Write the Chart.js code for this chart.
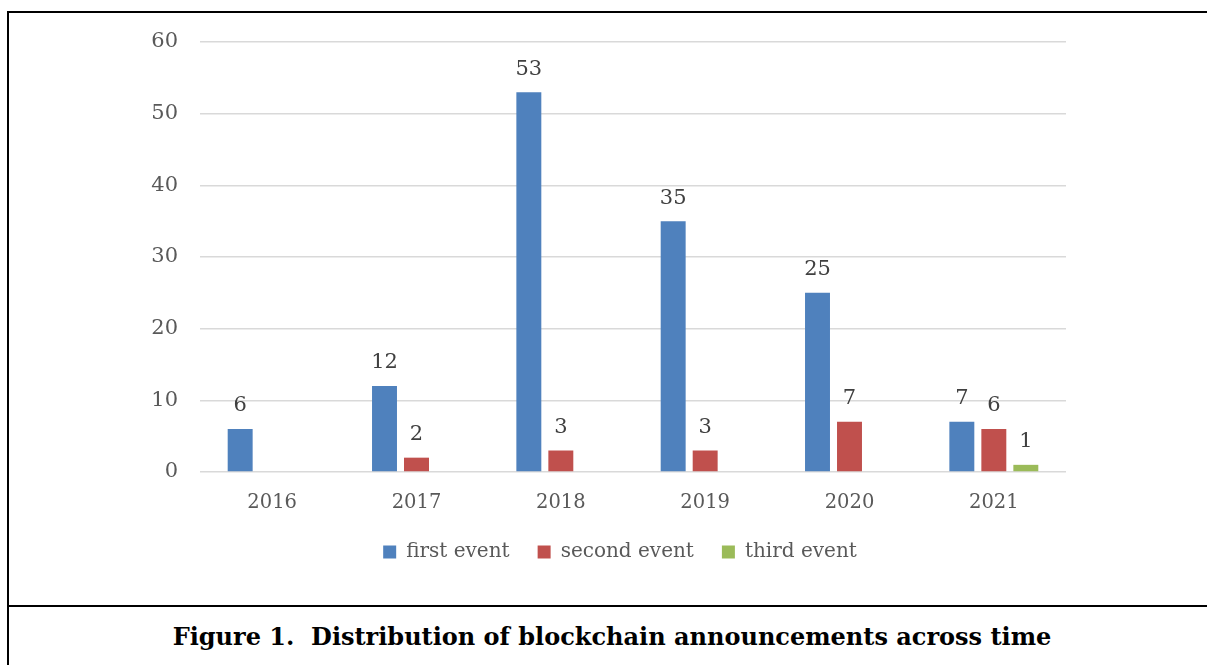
<!DOCTYPE html>
<html>
<head>
<meta charset="utf-8">
<script src="https://cdn.jsdelivr.net/npm/chart.js@4.4.1/dist/chart.umd.min.js"></script>
<style>
  html, body { margin: 0; padding: 0; background: #fff; overflow: hidden; }
  #frame { position: absolute; left: 7px; top: 11px; width: 1230px; height: 592px; border: 2px solid #000; }
  #capbox { position: absolute; left: 7px; top: 605px; width: 1230px; height: 80px; border-left: 2px solid #000; }
  #caption { position: absolute; left: 0; top: 622px; width: 1224px; text-align: center;
    font-family: "DejaVu Serif", serif; font-weight: bold; font-size: 24px; color: #000; }
  #wrap { position: absolute; left: 0; top: 0; width: 1207px; height: 600px; }
</style>
</head>
<body>
<div id="frame"></div>
<div id="capbox"></div>
<div id="caption">Figure 1.&nbsp; Distribution of blockchain announcements across time</div>
<div id="wrap"><canvas id="grafico"></canvas></div>
<script>
const anos = ['2016', '2017', '2018', '2019', '2020', '2021'];
const primeiro = [6, 12, 53, 35, 25, 7];
const segundo = [0, 2, 3, 3, 7, 6];
const terceiro = [0, 0, 0, 0, 0, 1];
const ticksY = [0, 10, 20, 30, 40, 50, 60];

const fonte = "'DejaVu Serif', serif";

// rótulos de valor acima das barras (sem plugin externo)
const rotulos = {
  id: 'rotulos',
  afterDatasetsDraw(chart) {
    const ctx = chart.ctx;
    ctx.save();
    ctx.font = '21px ' + fonte;
    ctx.fillStyle = '#404040';
    ctx.textAlign = 'center';
    ctx.textBaseline = 'middle';
    chart.data.datasets.forEach((ds, i) => {
      chart.getDatasetMeta(i).data.forEach((bar, j) => {
        const v = ds.data[j];
        if (!v) return;
        ctx.fillText(String(v), bar.x, bar.y - 23);
      });
    });
    ctx.restore();
  }
};

// legenda centrada sob a área do gráfico (como no original)
const moverLegenda = {
  id: 'moverLegenda',
  afterLayout(chart) {
    const lg = chart.legend;
    if (!lg) return;
    const desloc = (chart.chartArea.left + chart.chartArea.right) / 2 - 13 - (lg.left + lg.right) / 2;
    lg.left += desloc;
    lg.right += desloc;
  }
};

const comum = { barPercentage: 0.78, categoryPercentage: 0.665, borderWidth: 0 };

new Chart(document.getElementById('grafico'), {
  type: 'bar',
  data: {
    labels: anos,
    datasets: [
      { label: 'first event', data: primeiro, backgroundColor: '#4F81BD', ...comum },
      { label: 'second event', data: segundo, backgroundColor: '#C0504D', ...comum },
      { label: 'third event', data: terceiro, backgroundColor: '#9BBB59', ...comum }
    ]
  },
  options: {
    responsive: true,
    maintainAspectRatio: false,
    animation: false,
    layout: { padding: { top: 42, right: 141, bottom: 28, left: 0 } },
    plugins: {
      title: { display: false },
      tooltip: { enabled: false },
      legend: {
        position: 'bottom',
        labels: {
          font: { family: fonte, size: 20 },
          color: '#595959',
          boxWidth: 13,
          boxHeight: 13,
          padding: 28
        }
      }
    },
    scales: {
      x: {
        grid: { display: false, drawTicks: false },
        border: { display: false },
        ticks: { font: { family: fonte, size: 19.5 }, color: '#595959', padding: 19 },
        afterFit: s => { s.height = 42; }
      },
      y: {
        min: 0,
        max: 60,
        afterBuildTicks: s => { s.ticks = ticksY.map(v => ({ value: v })); },
        grid: { color: '#D9D9D9', lineWidth: 1.5, drawTicks: false },
        border: { display: false },
        ticks: { font: { family: fonte, size: 21 }, color: '#595959', padding: 22 },
        afterFit: s => { s.width = 200; }
      }
    }
  },
  plugins: [rotulos, moverLegenda]
});
</script>
</body>
</html>
